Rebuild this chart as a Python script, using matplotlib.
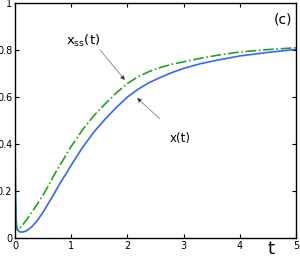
import matplotlib.pyplot as plt

# x(t) solution
t_x = [0, 0.005, 0.01, 0.02, 0.03, 0.05, 0.07, 0.1, 0.15, 0.2, 0.3, 0.4, 0.5,
       0.6, 0.7, 0.8, 0.9, 1.0, 1.2, 1.4, 1.6, 1.8, 2.0, 2.2, 2.4, 2.6, 2.8,
       3.0, 3.3, 3.6, 4.0, 4.5, 5.0]
x_vals = [0.45, 0.3, 0.18, 0.08, 0.05, 0.035, 0.028, 0.025, 0.026, 0.03, 0.048,
          0.075, 0.11, 0.15, 0.19, 0.233, 0.27, 0.31, 0.385, 0.45, 0.505, 0.555,
          0.60, 0.635, 0.663, 0.685, 0.705, 0.722, 0.742, 0.757, 0.775, 0.79, 0.803]

# x_ss(t)
t_ss = [0, 0.005, 0.01, 0.02, 0.03, 0.05, 0.1, 0.2, 0.3, 0.4, 0.5, 0.6, 0.7,
        0.8, 0.9, 1.0, 1.2, 1.4, 1.6, 1.8, 2.0, 2.2, 2.4, 2.6, 2.8, 3.0, 3.3,
        3.6, 4.0, 4.5, 5.0]
ss_vals = [0.45, 0.25, 0.12, 0.05, 0.038, 0.033, 0.045, 0.075, 0.11, 0.145, 0.183,
           0.225, 0.27, 0.31, 0.35, 0.39, 0.46, 0.52, 0.57, 0.617, 0.658, 0.688,
           0.71, 0.727, 0.74, 0.75, 0.765, 0.778, 0.792, 0.802, 0.81]

fig = plt.figure(figsize=(3.0, 2.57), dpi=100)
ax = fig.add_axes([0.05, 0.074, 0.937, 0.914])

ax.plot(t_x, x_vals, color='#3366ff', lw=1.2)
ax.plot(t_ss, ss_vals, color='#22a022', lw=1.2, ls='-.')

ax.set_xlim(0, 5)
ax.set_ylim(0, 1)
ax.set_xticks([0, 1, 2, 3, 4, 5])
ax.set_yticks([0, 0.2, 0.4, 0.6, 0.8, 1])
ax.set_yticklabels(['0', '0.2', '0.4', '0.6', '0.8', '1'])
ax.tick_params(direction='in', top=True, right=True, labelsize=7, length=3, pad=2)
for s in ax.spines.values():
    s.set_linewidth(1.0)

arrow = dict(arrowstyle='-|>', fc='black', ec='#808080', lw=0.6, mutation_scale=7)
ax.annotate('', xy=(1.99, 0.662), xytext=(1.48, 0.81), arrowprops=arrow)
ax.annotate('', xy=(2.13, 0.605), xytext=(2.61, 0.50), arrowprops=arrow)
ax.text(1.21, 0.84, r'$\mathregular{x_{ss}(t)}$', fontsize=9.5, ha='center', va='center')
ax.text(2.94, 0.425, 'x(t)', fontsize=8.5, ha='center', va='center')
ax.text(4.76, 0.93, '(c)', fontsize=10, ha='center', va='center')
ax.text(4.55, -0.048, 't', fontsize=13, ha='center', va='center')

plt.savefig('out.png', dpi=100)
